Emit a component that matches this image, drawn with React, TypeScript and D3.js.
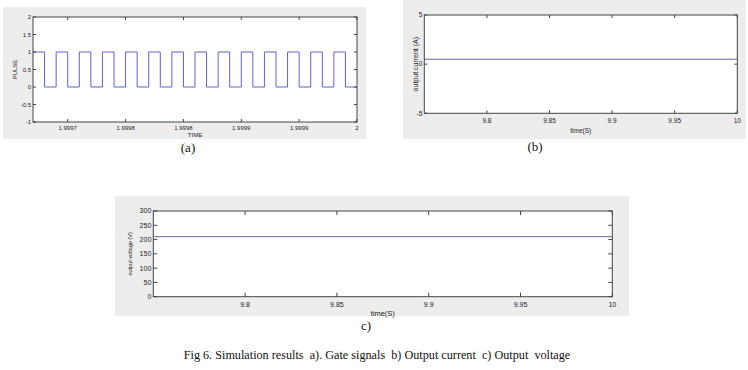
import React from "react";
import * as d3 from "d3";

// (a) gate pulse: transition times and levels (step after)
const pulseTime = [
  1.99972, 1.99973, 1.99974, 1.99975, 1.99976, 1.99977, 1.99978, 1.99979,
  1.99980, 1.99981, 1.99982, 1.99983, 1.99984, 1.99985, 1.99986, 1.99987,
  1.99988, 1.99989, 1.99990, 1.99991, 1.99992, 1.99993, 1.99994, 1.99995,
  1.99996, 1.99997, 1.99998, 1.99999, 2.0,
];
const pulseLevel = [
  1, 0, 1, 0, 1, 0, 1, 0, 1, 0, 1, 0, 1, 0, 1, 0, 1, 0, 1, 0, 1, 0, 1, 0, 1,
  0, 1, 0, 0,
];
const pulseXTicks = [1.99975, 1.9998, 1.99985, 1.9999, 1.99995, 2.0];
const pulseXLabels = ["1.9997", "1.9998", "1.9998", "1.9999", "1.9999", "2"];
const pulseYTicks = [-1, -0.5, 0, 0.5, 1, 1.5, 2];

// (b) output current
const currentTime = [9.75, 10];
const currentValue = [0.5, 0.5];
const currentYTicks = [-5, 0, 5];

// (c) output voltage
const voltageTime = [9.75, 10];
const voltageValue = [210, 210];
const voltageYTicks = [0, 50, 100, 150, 200, 250, 300];

const timeXTicks = [9.8, 9.85, 9.9, 9.95, 10];
const timeXLabels = ["9.8", "9.85", "9.9", "9.95", "10"];

interface PanelProps {
  bg: [number, number, number, number];
  box: [number, number, number, number];
  xDomain: [number, number];
  yDomain: [number, number];
  xs: number[];
  ys: number[];
  step?: boolean;
  xTicks: number[];
  xLabels: string[];
  yTicks: number[];
  xTitle: string;
  yTitle: string;
  font: number;
  titleFont: number;
  yTitleFont: number;
  labelDy: number;
  titleDy: number;
  yTitleOffset: number;
  lineColor: string;
  tickLen: number;
}

const Panel: React.FC<PanelProps> = (p) => {
  const [l, t, r, b] = p.box;
  const x = d3.scaleLinear().domain(p.xDomain).range([l, r]);
  const y = d3.scaleLinear().domain(p.yDomain).range([b, t]);
  const pts = p.xs.map((d, i) => [d, p.ys[i]] as [number, number]);
  const line = d3
    .line<[number, number]>()
    .x((d) => x(d[0]))
    .y((d) => y(d[1]))
    .curve(p.step ? d3.curveStepAfter : d3.curveLinear);
  const [bx0, by0, bx1, by1] = p.bg;
  const tl = p.tickLen;
  return (
    <g fontFamily="Liberation Sans, Arial, sans-serif" fontSize={p.font} fill="#222">
      <rect x={bx0} y={by0} width={bx1 - bx0} height={by1 - by0} fill="#ededed" />
      <rect x={l} y={t} width={r - l} height={b - t} fill="#fff" />
      <path d={line(pts) ?? ""} fill="none" stroke={p.lineColor} strokeWidth={1} />
      {p.xTicks.map((v, i) => (
        <g key={"x" + i}>
          <line x1={x(v)} x2={x(v)} y1={b} y2={b - tl} stroke="#444" />
          <line x1={x(v)} x2={x(v)} y1={t} y2={t + tl} stroke="#444" />
          <text x={x(v)} y={b + p.labelDy} textAnchor="middle">
            {p.xLabels[i]}
          </text>
        </g>
      ))}
      {p.yTicks.map((v, i) => (
        <g key={"y" + i}>
          <line x1={l} x2={l + tl} y1={y(v)} y2={y(v)} stroke="#444" />
          <line x1={r} x2={r - tl} y1={y(v)} y2={y(v)} stroke="#444" />
          <text x={l - 2} y={y(v)} dy="0.35em" textAnchor="end">
            {v}
          </text>
        </g>
      ))}
      <rect x={l} y={t} width={r - l} height={b - t} fill="none" stroke="#444" strokeWidth={1} />
      <text x={(l + r) / 2} y={b + p.titleDy} textAnchor="middle" fontSize={p.titleFont}>
        {p.xTitle}
      </text>
      <text
        transform={`translate(${l - p.yTitleOffset},${(t + b) / 2}) rotate(-90)`}
        textAnchor="middle"
        dy="0.35em"
        fontSize={p.yTitleFont}
      >
        {p.yTitle}
      </text>
    </g>
  );
};

export default function App() {
  return (
    <svg width={748} height={370} style={{ position: "absolute", left: 0, top: 0, background: "#fff" }}>
      <Panel
        bg={[3, 7, 366, 139]}
        box={[33, 17, 357, 122]}
        xDomain={[1.99972, 2]}
        yDomain={[-1, 2]}
        xs={pulseTime}
        ys={pulseLevel}
        step
        xTicks={pulseXTicks}
        xLabels={pulseXLabels}
        yTicks={pulseYTicks}
        xTitle="TIME"
        yTitle="PULSE"
        font={6}
        titleFont={6}
        yTitleFont={6}
        labelDy={8}
        titleDy={15}
        yTitleOffset={18}
        lineColor="#6060d0"
        tickLen={3}
      />
      <Panel
        bg={[403, 0, 746, 139]}
        box={[424.3, 15, 737.3, 113.3]}
        xDomain={[9.75, 10]}
        yDomain={[-5, 5]}
        xs={currentTime}
        ys={currentValue}
        xTicks={timeXTicks}
        xLabels={timeXLabels}
        yTicks={currentYTicks}
        xTitle="time(S)"
        yTitle="output current (A)"
        font={6.5}
        titleFont={6.5}
        yTitleFont={7}
        labelDy={10}
        titleDy={19.5}
        yTitleOffset={8.6}
        lineColor="#66668e"
        tickLen={3}
      />
      <Panel
        bg={[115, 196, 629, 316]}
        box={[153.3, 211, 612.3, 296.7]}
        xDomain={[9.75, 10]}
        yDomain={[0, 300]}
        xs={voltageTime}
        ys={voltageValue}
        xTicks={timeXTicks}
        xLabels={timeXLabels}
        yTicks={voltageYTicks}
        xTitle="time(S)"
        yTitle="output voltage (V)"
        font={7}
        titleFont={7.5}
        yTitleFont={5.5}
        labelDy={10}
        titleDy={19}
        yTitleOffset={23}
        lineColor="#66668e"
        tickLen={4}
      />
      <g fontFamily="Liberation Serif, Times New Roman, serif" fill="#111">
        <text x={188} y={152} fontSize={13} textAnchor="middle">(a)</text>
        <text x={535} y={151} fontSize={13} textAnchor="middle">(b)</text>
        <text x={366} y={330} fontSize={13} textAnchor="middle">c)</text>
        <text x={377} y={359} fontSize={12.2} textAnchor="middle" xmlSpace="preserve">
          {"Fig 6. Simulation results  a). Gate signals  b) Output current  c) Output  voltage"}
        </text>
      </g>
    </svg>
  );
}
